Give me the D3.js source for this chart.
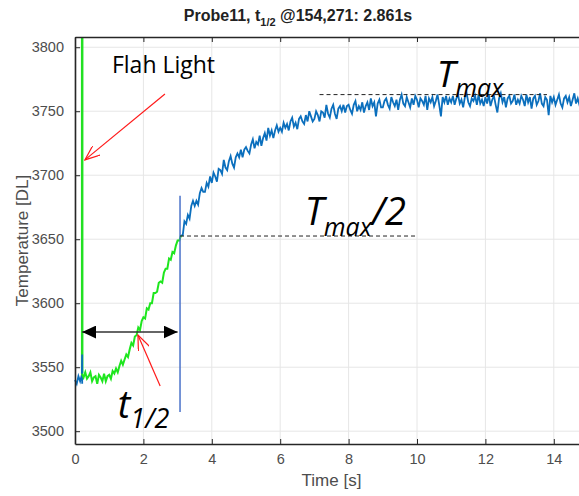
<!DOCTYPE html>
<html>
<head>
<meta charset="utf-8">
<script src="https://cdn.jsdelivr.net/npm/d3@7"></script>
<style>
  body { margin: 0; background: #fff; }
  svg { display: block; }
</style>
</head>
<body>
<svg id="chart"></svg>
<script>
// samples are 0.05 s apart, each segment starts at its own time
const sampleStep = 0.05;

// before the flash (blue), t = 0.00 .. 0.20
const preFlashStart = 0.0;
const preFlash = [3540, 3537, 3543, 3539, 3544];

// from the flash to t1/2 (green), t = 0.20 .. 3.10
const riseStart = 0.2;
const rise = [
  3545, 3542, 3546, 3541, 3543, 3546, 3539, 3542, 3543, 3537,
  3544, 3542, 3539, 3545, 3539, 3543, 3544, 3541, 3547, 3545,
  3549, 3546, 3551, 3555, 3552, 3556, 3560, 3558, 3564, 3569,
  3567, 3574, 3575, 3581, 3579, 3586, 3589, 3588, 3596, 3595,
  3600, 3600, 3608, 3608, 3609, 3616, 3617, 3616, 3624, 3627,
  3627, 3635, 3634, 3640, 3639, 3645, 3649, 3649, 3653
];

// after t1/2 (blue), t = 3.10 .. 14.80
const tailStart = 3.1;
const tail = [
  3653, 3653, 3664, 3662, 3669, 3666, 3676, 3680, 3676, 3680,
  3677, 3686, 3690, 3687, 3687, 3694, 3691, 3699,
  3694, 3702, 3699, 3695, 3705, 3704, 3701, 3712, 3706, 3704,
  3711, 3715, 3709, 3706, 3714, 3717, 3714, 3720, 3714, 3720,
  3722, 3719, 3717, 3724, 3728, 3721, 3726, 3724, 3731, 3723,
  3729, 3733, 3727, 3737, 3731, 3735, 3729, 3735, 3739, 3734,
  3737, 3734, 3741, 3737, 3740, 3735, 3742, 3745, 3738, 3741,
  3736, 3744, 3746, 3742, 3740, 3747, 3742, 3750, 3746, 3742,
  3744, 3750, 3747, 3742, 3750, 3749, 3745, 3755, 3748, 3745,
  3752, 3755, 3748, 3744, 3752, 3754, 3750, 3755, 3749, 3754,
  3755, 3751, 3748, 3755, 3758, 3750, 3754, 3751, 3757, 3749,
  3754, 3757, 3751, 3760, 3754, 3757, 3746, 3756, 3759, 3753,
  3753, 3758, 3760, 3755, 3752, 3761, 3757, 3754, 3759, 3751,
  3759, 3763, 3756, 3754, 3761, 3757, 3753, 3760, 3755, 3762,
  3759, 3753, 3760, 3758, 3755, 3762, 3751, 3760, 3757, 3761,
  3754, 3758, 3763, 3755, 3746, 3761, 3757, 3762, 3755, 3760,
  3757, 3762, 3755, 3760, 3763, 3756, 3759, 3753, 3761, 3764,
  3757, 3754, 3760, 3758, 3762, 3755, 3763, 3756, 3759, 3754,
  3761, 3756, 3763, 3754, 3759, 3762, 3755, 3749, 3760, 3764,
  3757, 3761, 3753, 3760, 3762, 3756, 3758, 3763, 3755, 3759,
  3756, 3762, 3759, 3754, 3763, 3757, 3761, 3752, 3760, 3762,
  3755, 3758, 3764, 3756, 3754, 3761, 3759, 3747, 3762, 3757,
  3761, 3755, 3759, 3763, 3756, 3753, 3760, 3762, 3757, 3761,
  3754, 3759, 3764, 3756, 3760, 3755, 3759
];

const xTicks = [0, 2, 4, 6, 8, 10, 12, 14];
const yTicks = [3500, 3550, 3600, 3650, 3700, 3750, 3800];

// annotation values
const flashT = 0.21;
const halfTime = 2.861;
const tMax = 3763;
const tMaxHalf = 3652.5;
const arrowY = 3577.5;

const W = 579, H = 496;
const svg = d3.select('#chart').attr('width', W).attr('height', H);

const x = d3.scaleLinear().domain([0, 15]).range([75, 588]);
const y = d3.scaleLinear().domain([3490, 3808]).range([444, 37]);

const toPoints = (start, vals) => vals.map((v, i) => [start + i * sampleStep, v]);

const axisFont = '"Liberation Sans", Arial, sans-serif';

// grid
svg.append('g')
  .selectAll('line')
  .data(xTicks)
  .enter()
  .append('line')
  .attr('x1', d => x(d)).attr('x2', d => x(d))
  .attr('y1', y.range()[1]).attr('y2', y.range()[0])
  .attr('stroke', '#e6e6e6');
svg.append('g')
  .selectAll('line')
  .data(yTicks)
  .enter()
  .append('line')
  .attr('x1', x.range()[0]).attr('x2', x.range()[1])
  .attr('y1', d => y(d)).attr('y2', d => y(d))
  .attr('stroke', '#e6e6e6');

const line = d3.line().x(d => x(d[0])).y(d => y(d[1]));

// flash line
svg.append('line')
  .attr('x1', x(flashT)).attr('x2', x(flashT))
  .attr('y1', y(3808)).attr('y2', y(3545))
  .attr('stroke', '#22e022').attr('stroke-width', 2.5);

svg.append('path')
  .datum(toPoints(preFlashStart, preFlash).concat([[flashT, 3560], [flashT, 3537]]))
  .attr('d', line)
  .attr('fill', 'none').attr('stroke', '#0b6fbd').attr('stroke-width', 1.8);

svg.append('path')
  .datum(toPoints(tailStart, tail))
  .attr('d', line)
  .attr('fill', 'none').attr('stroke', '#0b6fbd').attr('stroke-width', 1.8);

svg.append('path')
  .datum(toPoints(riseStart, rise))
  .attr('d', line)
  .attr('fill', 'none').attr('stroke', '#1ee61e').attr('stroke-width', 2);

// t1/2 vertical marker
svg.append('line')
  .attr('x1', x(flashT + halfTime)).attr('x2', x(flashT + halfTime))
  .attr('y1', y(3684)).attr('y2', y(3515))
  .attr('stroke', '#4a72c9').attr('stroke-width', 1.5);

// dashed levels
svg.append('line')
  .attr('x1', x(7.15)).attr('x2', x(13.8))
  .attr('y1', y(tMax)).attr('y2', y(tMax))
  .attr('stroke', '#222').attr('stroke-dasharray', '4,3');
svg.append('line')
  .attr('x1', x(flashT + halfTime)).attr('x2', x(10))
  .attr('y1', y(tMaxHalf)).attr('y2', y(tMaxHalf))
  .attr('stroke', '#222').attr('stroke-dasharray', '4,3');

// markers
const defs = svg.append('defs');
defs.append('marker')
  .attr('id', 'open').attr('viewBox', '0 0 16 12')
  .attr('refX', 15).attr('refY', 6)
  .attr('markerWidth', 16).attr('markerHeight', 12)
  .attr('markerUnits', 'userSpaceOnUse').attr('orient', 'auto')
  .append('path').attr('d', 'M0,0 L15,6 L0,12')
  .attr('fill', 'none').attr('stroke', '#ff1a1a').attr('stroke-width', 1.2);
defs.append('marker')
  .attr('id', 'solid').attr('viewBox', '0 0 14 13')
  .attr('refX', 14).attr('refY', 6.5)
  .attr('markerWidth', 14).attr('markerHeight', 13)
  .attr('markerUnits', 'userSpaceOnUse').attr('orient', 'auto-start-reverse')
  .append('path').attr('d', 'M0,0 L14,6.5 L0,13 Z').attr('fill', '#000');

// double arrow showing t1/2
svg.append('line')
  .attr('x1', x(flashT)).attr('x2', x(3.0))
  .attr('y1', y(arrowY)).attr('y2', y(arrowY))
  .attr('stroke', '#333').attr('stroke-width', 1.6)
  .attr('marker-start', 'url(#solid)').attr('marker-end', 'url(#solid)');

// red arrows
svg.append('line')
  .attr('x1', x(2.63)).attr('y1', y(3763.5))
  .attr('x2', x(0.29)).attr('y2', y(3712))
  .attr('stroke', '#ff1a1a').attr('stroke-width', 1.2)
  .attr('marker-end', 'url(#open)');
svg.append('line')
  .attr('x1', x(2.49)).attr('y1', y(3535.3))
  .attr('x2', x(1.84)).attr('y2', y(3575.2))
  .attr('stroke', '#ff1a1a').attr('stroke-width', 1.2)
  .attr('marker-end', 'url(#open)');

// axes
const axisStyle = g => {
  g.select('.domain').attr('stroke', '#262626').attr('stroke-width', 1.6);
  g.selectAll('.tick line').attr('stroke', '#262626');
  g.selectAll('.tick text')
    .attr('fill', '#4d4d4d')
    .style('font-family', axisFont)
    .style('font-size', '14.5px');
};

svg.append('g')
  .attr('transform', `translate(0,${y.range()[0]})`)
  .call(d3.axisBottom(x).tickValues(xTicks).tickSizeInner(-5).tickSizeOuter(0).tickPadding(10))
  .call(axisStyle);

svg.append('g')
  .attr('transform', `translate(0,${y.range()[1]})`)
  .call(d3.axisTop(x).tickValues(xTicks).tickSizeInner(-5).tickSizeOuter(0).tickFormat(''))
  .call(axisStyle);

svg.append('g')
  .attr('transform', `translate(${x.range()[0]},0)`)
  .call(d3.axisLeft(y).tickValues(yTicks).tickFormat(d3.format('d'))
    .tickSizeInner(-5).tickSizeOuter(0).tickPadding(11))
  .call(axisStyle);

// title and axis labels
const title = svg.append('text')
  .attr('x', 298).attr('y', 21)
  .attr('text-anchor', 'middle')
  .attr('fill', '#222')
  .style('font-family', axisFont)
  .style('font-size', '16px')
  .style('font-weight', 'bold');
title.append('tspan').text('Probe11, t');
title.append('tspan').attr('dy', 5).style('font-size', '11px').text('1/2');
title.append('tspan').attr('dy', -5).text(' @154,271: 2.861s');

svg.append('text')
  .attr('transform', `translate(28,${(y.range()[0] + y.range()[1]) / 2}) rotate(-90)`)
  .attr('text-anchor', 'middle')
  .attr('fill', '#4d4d4d')
  .style('font-family', axisFont)
  .style('font-size', '17px')
  .text('Temperature [DL]');

svg.append('text')
  .attr('x', (x.range()[0] + x.range()[1]) / 2).attr('y', 486)
  .attr('text-anchor', 'middle')
  .attr('fill', '#4d4d4d')
  .style('font-family', axisFont)
  .style('font-size', '17px')
  .text('Time [s]');

// annotations
const note = (px, py) => svg.append('text')
  .attr('x', px).attr('y', py)
  .attr('fill', '#000')
  .style('font-family', '"Open Sans", sans-serif');

note(x(1.08), y(3763) - 22).style('font-size', '23px').text('Flah Light');

const tm = note(x(10.58), y(tMax) - 8).style('font-style', 'italic').style('font-size', '37px');
tm.append('tspan').text('T');
tm.append('tspan').attr('dy', 10).style('font-size', '25px').text('max');

const th = note(x(6.72), y(tMaxHalf) - 11).style('font-style', 'italic').style('font-size', '38px');
th.append('tspan').text('T');
th.append('tspan').attr('dy', 11).style('font-size', '25px').text('max');
th.append('tspan').attr('dy', -11).text('/2');

const ht = note(x(1.25), 418).style('font-style', 'italic').style('font-size', '38px');
ht.append('tspan').text('t');
ht.append('tspan').attr('dy', 10).style('font-size', '27px').text('1/2');
</script>
</body>
</html>
